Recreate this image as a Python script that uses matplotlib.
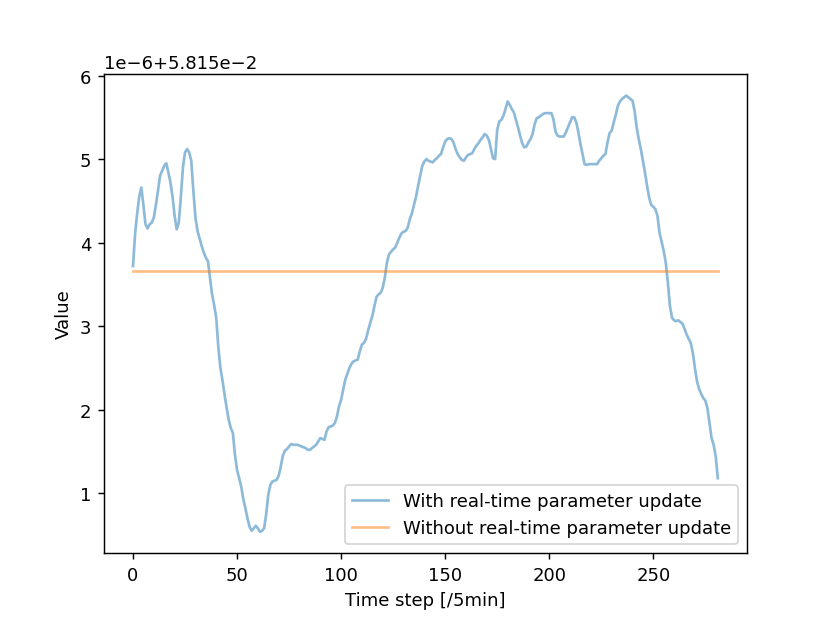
import numpy as np
import matplotlib
matplotlib.use("Agg")
import matplotlib.pyplot as plt

# ============================
# Real-time parameter update vs fixed parameter
# ============================

# Value offset and scale (values stored as micro-deviations)
base_value = 5.815e-2
unit = 1e-6

# With real-time parameter update (one value per 5 min time step)
with_update = [
    3.72, 4.10, 4.35, 4.55, 4.66, 4.45, 4.22, 4.17, 4.22, 4.24,
    4.30, 4.45, 4.62, 4.80, 4.86, 4.92, 4.95, 4.84, 4.72, 4.55,
    4.32, 4.16, 4.24, 4.55, 4.90, 5.08, 5.12, 5.08, 4.98, 4.62,
    4.30, 4.14, 4.05, 3.96, 3.88, 3.82, 3.78, 3.58, 3.38, 3.25,
    3.10, 2.75, 2.50, 2.35, 2.18, 2.02, 1.88, 1.78, 1.72, 1.46,
    1.28, 1.18, 1.08, 0.93, 0.82, 0.70, 0.60, 0.55, 0.58, 0.61,
    0.58, 0.54, 0.55, 0.58, 0.75, 0.98, 1.10, 1.14, 1.15, 1.16,
    1.21, 1.32, 1.45, 1.51, 1.53, 1.56, 1.59, 1.58, 1.58, 1.58,
    1.57, 1.56, 1.55, 1.54, 1.52, 1.52, 1.54, 1.56, 1.58, 1.62,
    1.66, 1.65, 1.64, 1.74, 1.79, 1.80, 1.81, 1.84, 1.92, 2.04,
    2.12, 2.24, 2.36, 2.43, 2.50, 2.55, 2.58, 2.59, 2.60, 2.70,
    2.78, 2.80, 2.85, 2.95, 3.04, 3.12, 3.24, 3.35, 3.38, 3.40,
    3.46, 3.58, 3.76, 3.86, 3.89, 3.92, 3.94, 4.00, 4.06, 4.11,
    4.13, 4.14, 4.18, 4.28, 4.35, 4.45, 4.55, 4.68, 4.80, 4.92,
    4.97, 5.00, 4.98, 4.97, 4.96, 4.99, 5.01, 5.04, 5.06, 5.14,
    5.21, 5.24, 5.25, 5.24, 5.20, 5.12, 5.06, 5.02, 4.99, 4.98,
    5.02, 5.05, 5.06, 5.07, 5.12, 5.16, 5.19, 5.23, 5.26, 5.30,
    5.28, 5.23, 5.12, 5.01, 5.00, 5.35, 5.45, 5.47, 5.52, 5.60,
    5.69, 5.65, 5.60, 5.56, 5.47, 5.38, 5.28, 5.19, 5.14, 5.15,
    5.20, 5.24, 5.30, 5.42, 5.49, 5.50, 5.52, 5.54, 5.55, 5.55,
    5.55, 5.55, 5.48, 5.33, 5.28, 5.27, 5.27, 5.27, 5.32, 5.38,
    5.44, 5.50, 5.50, 5.44, 5.32, 5.18, 5.06, 4.94, 4.93, 4.94,
    4.94, 4.94, 4.94, 4.94, 4.98, 5.01, 5.04, 5.06, 5.20, 5.31,
    5.34, 5.44, 5.53, 5.64, 5.69, 5.72, 5.74, 5.76, 5.74, 5.72,
    5.70, 5.58, 5.38, 5.24, 5.12, 4.98, 4.84, 4.68, 4.54, 4.45,
    4.43, 4.40, 4.32, 4.12, 4.01, 3.90, 3.76, 3.52, 3.24, 3.10,
    3.07, 3.06, 3.07, 3.05, 3.03, 2.97, 2.90, 2.85, 2.80, 2.68,
    2.50, 2.34, 2.25, 2.19, 2.14, 2.11, 2.02, 1.84, 1.66, 1.58,
    1.44, 1.18,
]

# Without real-time parameter update (constant)
without_update_level = 3.66

time_steps = np.arange(len(with_update))
y_with = base_value + np.array(with_update) * unit
y_without = np.full(len(time_steps), base_value + without_update_level * unit)

# ----------------------------
# Plot
# ----------------------------
fig = plt.figure(figsize=(6.385, 4.792), dpi=130)
plt.plot(time_steps, y_with, alpha=0.5, label="With real-time parameter update")
plt.plot(time_steps, y_without, alpha=0.5, label="Without real-time parameter update")
plt.xlabel("Time step [/5min]")
plt.ylabel("Value")
plt.legend(loc="lower right")
plt.savefig("out.png")
plt.close()
